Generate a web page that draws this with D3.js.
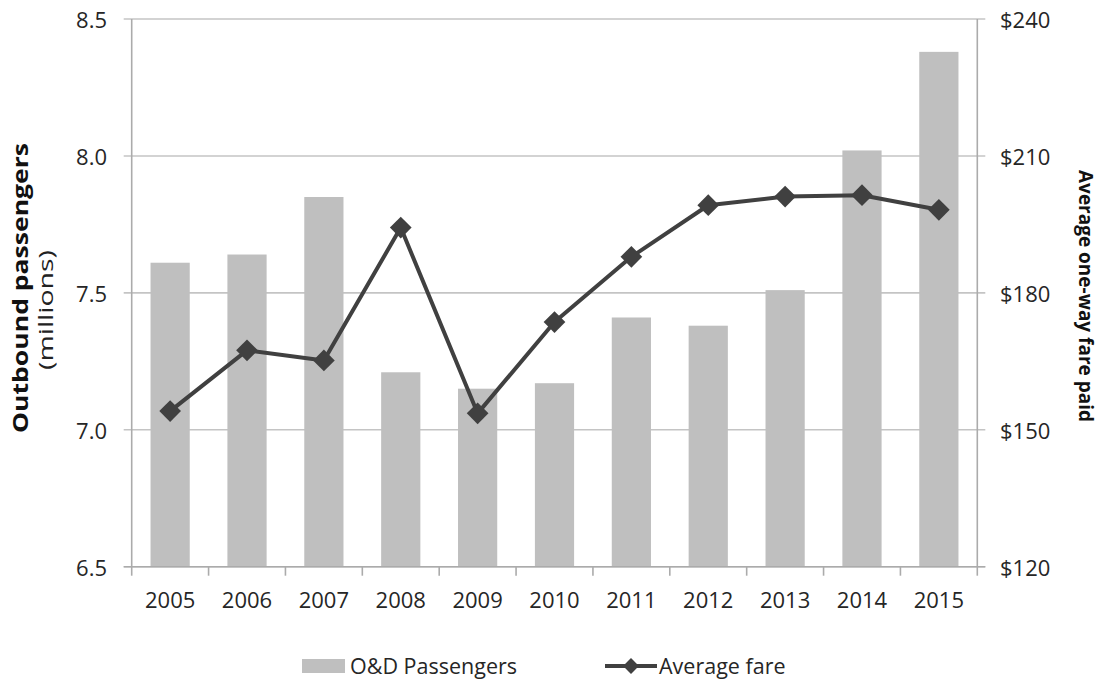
<!DOCTYPE html>
<html>
<head>
<meta charset="utf-8">
<script src="https://cdn.jsdelivr.net/npm/d3@7"></script>
<style>
  html, body { margin: 0; padding: 0; background: #fff; }
  svg { display: block; font-family: "Open Sans", "Noto Sans", sans-serif; }
</style>
</head>
<body>
<svg id="chart" width="1106" height="683"></svg>
<script>
// Yearly series
const years = ["2005","2006","2007","2008","2009","2010","2011","2012","2013","2014","2015"];
const passengers = [7.61, 7.64, 7.85, 7.21, 7.15, 7.17, 7.41, 7.38, 7.51, 8.02, 8.38];   // millions
const avgFare = [154.1, 167.4, 165.2, 194.3, 153.6, 173.6, 187.9, 199.2, 201.1, 201.4, 198.2]; // USD

const leftTicks = [6.5, 7.0, 7.5, 8.0, 8.5];
const rightTicks = [120, 150, 180, 210, 240];

const svg = d3.select("#chart");
const m = { left: 131.7, right: 977.3, top: 19, bottom: 566.7 };

const x = d3.scaleBand().domain(years).range([m.left, m.right])
  .paddingInner(0.49).paddingOuter(0.245);
const yL = d3.scaleLinear().domain([6.5, 8.5]).range([m.bottom, m.top]);
const yR = d3.scaleLinear().domain([120, 240]).range([m.bottom, m.top]);

const gridColor = "#c4c4c4";
const axisColor = "#ababab";

// Horizontal gridlines, with tick stubs beyond both axes
svg.append("g").selectAll("line").data(leftTicks).join("line")
  .attr("x1", m.left - 8).attr("x2", m.right + 8)
  .attr("y1", d => yL(d)).attr("y2", d => yL(d))
  .attr("stroke", gridColor).attr("stroke-width", 1.6);

// Bars
svg.append("g").selectAll("rect").data(years).join("rect")
  .attr("x", d => x(d))
  .attr("width", x.bandwidth())
  .attr("y", (d, i) => yL(passengers[i]))
  .attr("height", (d, i) => yL(6.5) - yL(passengers[i]))
  .attr("fill", "#bfbfbf");

// Category boundary ticks below the baseline
const step = x.step();
const bounds = d3.range(years.length + 1).map(i => m.left + i * step);
svg.append("g").selectAll("line").data(bounds).join("line")
  .attr("x1", d => d).attr("x2", d => d)
  .attr("y1", m.bottom).attr("y2", m.bottom + 9)
  .attr("stroke", axisColor).attr("stroke-width", 1.6);

// Axis lines
svg.append("line").attr("x1", m.left).attr("x2", m.left).attr("y1", m.top).attr("y2", m.bottom)
  .attr("stroke", axisColor).attr("stroke-width", 1.6);
svg.append("line").attr("x1", m.right).attr("x2", m.right).attr("y1", m.top).attr("y2", m.bottom)
  .attr("stroke", axisColor).attr("stroke-width", 1.6);
svg.append("line").attr("x1", m.left - 8).attr("x2", m.right + 8).attr("y1", m.bottom).attr("y2", m.bottom)
  .attr("stroke", axisColor).attr("stroke-width", 1.6);

// Tick labels
const labelColor = "#262626";
svg.append("g").selectAll("text").data(leftTicks).join("text")
  .attr("x", 107).attr("y", d => yL(d)).attr("dy", "0.4em")
  .attr("text-anchor", "end").attr("font-size", 22).attr("fill", labelColor)
  .text(d => d3.format(".1f")(d));

svg.append("g").selectAll("text").data(rightTicks).join("text")
  .attr("x", 1000).attr("y", d => yR(d)).attr("dy", "0.4em")
  .attr("text-anchor", "start").attr("font-size", 22).attr("fill", labelColor)
  .text(d => "$" + d);

svg.append("g").selectAll("text").data(years).join("text")
  .attr("x", d => x(d) + x.bandwidth() / 2).attr("y", 600).attr("dy", "0.36em")
  .attr("text-anchor", "middle").attr("font-size", 22).attr("fill", labelColor)
  .text(d => d);

// Axis titles
svg.append("text")
  .attr("transform", "translate(28,288) rotate(-90)")
  .attr("text-anchor", "middle").attr("font-size", 22).attr("font-weight", "bold").attr("fill", "#111")
  .attr("textLength", 290).attr("lengthAdjust", "spacingAndGlyphs")
  .text("Outbound passengers");
svg.append("text")
  .attr("transform", "translate(53,310) rotate(-90)")
  .attr("text-anchor", "middle").attr("font-size", 20).attr("fill", "#222")
  .attr("textLength", 120).attr("lengthAdjust", "spacingAndGlyphs")
  .text("(millions)");
svg.append("text")
  .attr("transform", "translate(1079,296) rotate(90)")
  .attr("text-anchor", "middle").attr("font-size", 20).attr("font-weight", "bold").attr("fill", "#111")
  .attr("textLength", 252).attr("lengthAdjust", "spacingAndGlyphs")
  .text("Average one-way fare paid");

// Fare line with diamond markers
const lineColor = "#404040";
const line = d3.line()
  .x((d, i) => x(years[i]) + x.bandwidth() / 2)
  .y(d => yR(d));
svg.append("path").datum(avgFare)
  .attr("d", line).attr("fill", "none")
  .attr("stroke", lineColor).attr("stroke-width", 4).attr("stroke-linejoin", "round");

const diamond = d3.symbol().type(d3.symbolDiamond2).size(300);
svg.append("g").selectAll("path").data(avgFare).join("path")
  .attr("transform", (d, i) => `translate(${x(years[i]) + x.bandwidth() / 2},${yR(d)})`)
  .attr("d", diamond).attr("fill", lineColor);

// Legend
const lg = svg.append("g");
lg.append("rect").attr("x", 302).attr("y", 659).attr("width", 43).attr("height", 14).attr("fill", "#bfbfbf");
lg.append("text").attr("x", 350).attr("y", 666).attr("dy", "0.36em")
  .attr("font-size", 21.5).attr("fill", labelColor).text("O&D Passengers");
lg.append("line").attr("x1", 605).attr("x2", 657).attr("y1", 666).attr("y2", 666)
  .attr("stroke", lineColor).attr("stroke-width", 4);
lg.append("path").attr("transform", "translate(631,666)")
  .attr("d", d3.symbol().type(d3.symbolDiamond2).size(160)).attr("fill", lineColor);
lg.append("text").attr("x", 659).attr("y", 666).attr("dy", "0.36em")
  .attr("font-size", 21.5).attr("fill", labelColor).text("Average fare");
</script>
</body>
</html>
